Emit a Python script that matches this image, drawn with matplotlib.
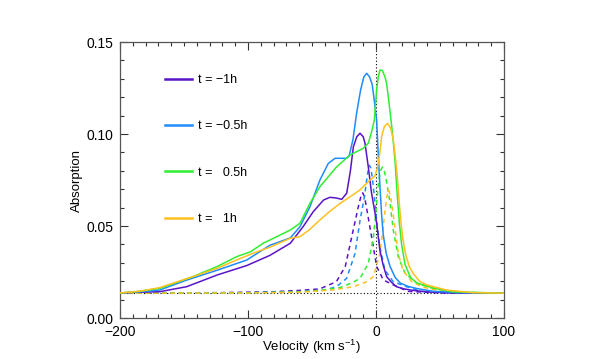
import matplotlib
matplotlib.use("Agg")
import matplotlib.pyplot as plt
from matplotlib.ticker import MultipleLocator, FuncFormatter

plt.rcParams['font.family'] = ['Liberation Sans', 'DejaVu Sans']
plt.rcParams['mathtext.fontset'] = 'custom'
plt.rcParams['mathtext.rm'] = 'Liberation Sans'
plt.rcParams['mathtext.it'] = 'Liberation Sans:italic'

labels = ["t = \u22121h", "t = \u22120.5h", "t =   0.5h", "t =   1h"]
colors = ["#5A14C8", "#1E8CFF", "#30EE30", "#FFC020"]

# Solid profiles
v_m1 = [-200, -185, -169, -148, -124, -101, -83, -67, -57, -49, -41, -36, -31, -26.8, -22.9, -20, -17.7, -15, -12.5,
        -10, -8.6, -6, -3.5, -1, 0.5, 3, 5.5, 8.3, 12, 16, 22, 29, 40, 60, 100]
a_m1 = [0.0136, 0.0140, 0.0143, 0.017, 0.0234, 0.0285, 0.034, 0.0406, 0.0496, 0.0578, 0.0641, 0.0656, 0.0652, 0.0645,
        0.0678, 0.080, 0.093, 0.0985, 0.1004, 0.0985, 0.095, 0.082, 0.068, 0.058, 0.0516, 0.037, 0.029, 0.0225, 0.0195,
        0.017, 0.0158, 0.0150, 0.0142, 0.0137, 0.0135]

v_m05 = [-200, -185, -169, -148, -124, -101, -83, -67, -59.4, -51.6, -43.8, -37.3, -32, -23, -21, -18, -15, -12, -9.5,
         -7.3, -5, -3, -1.3, 0.5, 1.8, 3.2, 4.5, 5.7, 8, 11, 15, 19, 25, 32, 45, 70, 100]
a_m05 = [0.0136, 0.0142, 0.0152, 0.0206, 0.026, 0.0315, 0.0395, 0.0435, 0.0496, 0.0605, 0.075, 0.084, 0.0868, 0.0868,
         0.088, 0.097, 0.112, 0.124, 0.131, 0.133, 0.131, 0.127, 0.118, 0.1076, 0.088, 0.070, 0.055, 0.045, 0.035,
         0.028, 0.022, 0.019, 0.0172, 0.0160, 0.0145, 0.0137, 0.0135]

v_p05 = [-200, -185, -169, -143, -124, -109, -98, -88, -82.8, -67, -59.4, -51.6, -43.8, -30.7, -20.3, -10, -6, -3.5,
         -1.3, 0.5, 1.8, 3.1, 5, 7, 8.3, 10, 12.3, 13.6, 14.8, 16.5, 18.2, 20, 22.7, 27, 32, 44.5, 60, 100]
a_p05 = [0.0136, 0.0145, 0.0161, 0.0225, 0.028, 0.0333, 0.036, 0.0407, 0.0424, 0.0478, 0.0515, 0.0623, 0.0714, 0.0822,
         0.0886, 0.0922, 0.095, 0.101, 0.1076, 0.124, 0.131, 0.1348, 0.1345, 0.131, 0.1275, 0.118, 0.104, 0.095, 0.0859,
         0.068, 0.052, 0.040, 0.029, 0.022, 0.019, 0.0163, 0.0142, 0.0135]

v_p1 = [-200, -185, -169, -143, -124, -109, -93, -82.8, -67, -59.4, -52, -43.8, -36, -28, -20, -12.5, -4.7, -1, 1, 3,
        4.4, 6.5, 9.1, 11.5, 13.5, 15, 16.5, 18, 19.5, 21, 23, 26, 29, 34, 39.6, 55, 75, 100]
a_p1 = [0.0136, 0.0145, 0.0165, 0.0225, 0.027, 0.0315, 0.036, 0.0385, 0.0433, 0.0442, 0.048, 0.0533, 0.058, 0.0623,
        0.066, 0.0696, 0.075, 0.077, 0.081, 0.090, 0.0986, 0.104, 0.1058, 0.103, 0.097, 0.088, 0.078, 0.064, 0.052,
        0.043, 0.035, 0.028, 0.0243, 0.020, 0.018, 0.0152, 0.0138, 0.0135]

# Dashed profiles
vd_m1 = [-200, -120, -80, -60, -44, -31, -24, -19, -13.8, -12, -10.4, -9, -7.3, -3.4, 0.5, 5.7, 13.5, 25, 50, 100]
ad_m1 = [0.0135, 0.0138, 0.0143, 0.0150, 0.0158, 0.0197, 0.028, 0.044, 0.0605, 0.0655, 0.068, 0.066, 0.0595, 0.044,
         0.028, 0.0207, 0.018, 0.0145, 0.0136, 0.0135]

vd_m05 = [-200, -100, -60, -40, -31, -23, -16.4, -12.5, -9, -6.5, -5.2, -4, -2.5, -1, 0.5, 3, 7, 13.5, 24, 35, 60, 100]
ad_m05 = [0.0135, 0.0137, 0.0143, 0.0152, 0.017, 0.0215, 0.035, 0.053, 0.066, 0.079, 0.083, 0.0815, 0.074, 0.064,
          0.053, 0.0387, 0.026, 0.0197, 0.017, 0.0145, 0.0136, 0.0135]

vd_p05 = [-200, -100, -60, -44, -28, -17.7, -12.5, -6, -2, 0.5, 2, 3.5, 5, 6.5, 8, 9.5, 11, 13.5, 17.4, 22.7, 32, 45,
          65, 100]
ad_p05 = [0.0135, 0.0137, 0.0142, 0.0150, 0.0165, 0.0195, 0.0215, 0.0297, 0.044, 0.0623, 0.074, 0.080, 0.082, 0.080,
          0.075, 0.069, 0.0623, 0.0478, 0.0333, 0.0243, 0.0188, 0.016, 0.014, 0.0135]

vd_p1 = [-200, -100, -60, -34, -17.7, -7.3, -2, 3, 5, 7, 8.5, 9.8, 11, 12.3, 15, 17.4, 21, 28, 37, 55, 100]
ad_p1 = [0.0135, 0.0136, 0.014, 0.0152, 0.017, 0.0197, 0.0225, 0.035, 0.046, 0.058, 0.066, 0.0696, 0.067, 0.0623,
         0.0478, 0.035, 0.026, 0.0197, 0.0167, 0.014, 0.0135]

baseline = 0.0135

solid_v = [v_m1, v_m05, v_p05, v_p1]
solid_a = [a_m1, a_m05, a_p05, a_p1]
dash_v = [vd_m1, vd_m05, vd_p05, vd_p1]
dash_a = [ad_m1, ad_m05, ad_p05, ad_p1]

fig = plt.figure(figsize=(5.98, 3.59), dpi=100)
ax = fig.add_axes([0.2007, 0.1142, 0.6421, 0.7688])

ax.axhline(baseline, color="black", lw=0.8, ls=(0, (1, 2)), zorder=1)
ax.axvline(0, color="black", lw=0.8, ls=(0, (1, 2)), zorder=1)

for vv, aa, c in zip(dash_v, dash_a, colors):
    ax.plot(vv, aa, color=c, lw=1.1, ls=(0, (3, 2.5)), zorder=2)
for vv, aa, c, lab in zip(solid_v, solid_a, colors, labels):
    ax.plot(vv, aa, color=c, lw=1.1, label=lab, zorder=3)

ax.set_xlim(-200, 100)
ax.set_ylim(0, 0.15)
ax.xaxis.set_major_locator(MultipleLocator(100))
ax.xaxis.set_minor_locator(MultipleLocator(10))
ax.yaxis.set_major_locator(MultipleLocator(0.05))
ax.yaxis.set_minor_locator(MultipleLocator(0.01))
ax.xaxis.set_major_formatter(FuncFormatter(lambda x, p: f"{x:.0f}".replace("-", "\u2212")))
ax.yaxis.set_major_formatter(FuncFormatter(lambda y, p: f"{y:.2f}"))
ax.tick_params(which="both", direction="in", top=True, right=True, width=0.8, colors="#333333",
               labelcolor="black", labelsize=10)
ax.tick_params(which="major", length=6, pad=5)
ax.tick_params(which="minor", length=3)
for s in ax.spines.values():
    s.set_linewidth(0.9)
    s.set_color("#555555")

ax.set_xlabel("Velocity (km s$^{-1}$)", fontsize=9.5, labelpad=-1)
ax.set_ylabel("Absorption", fontsize=9.5, labelpad=2)

leg = ax.legend(loc="upper left", bbox_to_anchor=(0.087, 0.925), frameon=False, fontsize=9,
                handlelength=2.2, handletextpad=0.5, labelspacing=2.75)
for line in leg.get_lines():
    line.set_linewidth(1.8)

fig.savefig("out.png", dpi=100)
